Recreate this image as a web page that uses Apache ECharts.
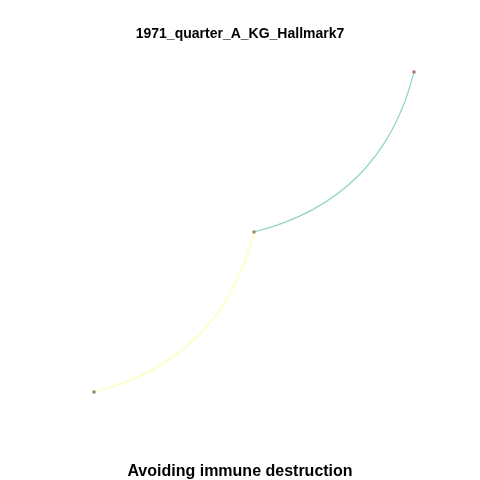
<!DOCTYPE html>
<html>
<head>
<meta charset="utf-8">
<script src="https://cdn.jsdelivr.net/npm/echarts@6/dist/echarts.min.js"></script>
<style>html,body{margin:0;padding:0;background:#fff;}#c{width:480px;height:480px;}</style>
</head>
<body>
<div id="c"></div>
<script>
const chartTitle = '1971_quarter_A_KG_Hallmark7';
const subtitle = 'Avoiding immune destruction';
const nodeNames = ['n1', 'n2', 'n3'];
const nodeX = [0, 1, 2];
const nodeY = [0, 1, 2];
const nodeColors = ['#9c7f5f', '#a0805a', '#a6705a'];
const edgeSource = [0, 1];
const edgeTarget = [1, 2];
const edgeColors = ['#ffffb3', '#8dd3c7'];

const chart = echarts.init(document.getElementById('c'));
chart.setOption({
  animation: false,
  backgroundColor: '#ffffff',
  title: [
    { text: chartTitle, left: 'center', top: 22,
      textStyle: { fontFamily: 'Liberation Sans, Arial, sans-serif', fontSize: 14, fontWeight: 'bold', color: '#000' } },
    { text: subtitle, left: 'center', top: 459,
      textStyle: { fontFamily: 'Liberation Sans, Arial, sans-serif', fontSize: 16, fontWeight: 'bold', color: '#000' } }
  ],
  grid: { left: 94, right: 66, top: 72, bottom: 88 },
  xAxis: { type: 'value', min: 0, max: 2, show: false },
  yAxis: { type: 'value', min: 0, max: 2, show: false },
  series: [{
    type: 'graph',
    coordinateSystem: 'cartesian2d',
    symbol: 'rect',
    symbolSize: 3,
    label: { show: false },
    data: nodeNames.map((n, i) => ({ name: n, value: [nodeX[i], nodeY[i]], itemStyle: { color: nodeColors[i] } })),
    links: edgeSource.map((s, i) => ({ source: s, target: edgeTarget[i], lineStyle: { color: edgeColors[i], width: 1.1, curveness: -0.3, opacity: 1 } })),
    z: 2
  }]
});
</script>
</body>
</html>
